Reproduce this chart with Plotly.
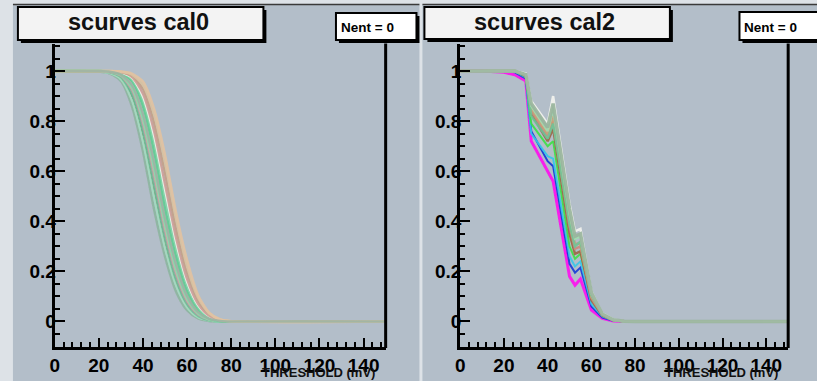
import plotly.graph_objects as go

W, H = 817, 381

# ---------------- data ----------------
# left panel: scurves cal0
x_cal0 = [0, 20, 25, 30, 35, 40, 45, 50, 55, 60, 65, 70, 75, 80, 150]
cal0_k = [1, 0.999, 0.994, 0.974, 0.904, 0.755, 0.54, 0.328, 0.165, 0.067, 0.021, 0.005, 0.001, 0, 0]
cal0_a = [1, 0.998, 0.99, 0.96, 0.86, 0.68, 0.45, 0.26, 0.12, 0.045, 0.012, 0.002, 0, 0, 0]
cal0_b = [1, 0.998, 0.992, 0.968, 0.884, 0.72, 0.50, 0.295, 0.145, 0.057, 0.017, 0.004, 0, 0, 0]
cal0_c = [1, 0.999, 0.994, 0.972, 0.896, 0.74, 0.523, 0.313, 0.156, 0.063, 0.02, 0.005, 0.001, 0, 0]
cal0_d = [1, 0.999, 0.995, 0.976, 0.908, 0.76, 0.546, 0.332, 0.168, 0.069, 0.022, 0.005, 0.001, 0, 0]
cal0_e = [1, 0.999, 0.996, 0.98, 0.92, 0.78, 0.57, 0.35, 0.18, 0.075, 0.025, 0.006, 0.001, 0, 0]
cal0_f = [1, 0.999, 0.996, 0.982, 0.928, 0.796, 0.592, 0.37, 0.196, 0.084, 0.029, 0.007, 0.002, 0, 0]
cal0_g = [1, 1.0, 0.997, 0.984, 0.936, 0.81, 0.614, 0.39, 0.21, 0.093, 0.033, 0.008, 0.001, 0, 0]
cal0_h = [1, 1.0, 0.998, 0.99, 0.96, 0.86, 0.68, 0.45, 0.26, 0.12, 0.045, 0.012, 0.002, 0, 0]
cal0_i = [1, 1.0, 0.998, 0.992, 0.968, 0.884, 0.72, 0.50, 0.295, 0.145, 0.057, 0.017, 0.004, 0, 0]
cal0_j = [1, 1.0, 0.999, 0.994, 0.972, 0.896, 0.74, 0.523, 0.314, 0.156, 0.063, 0.02, 0.005, 0.001, 0]
cal0_l = [1, 1.0, 0.999, 0.995, 0.976, 0.908, 0.76, 0.546, 0.332, 0.168, 0.069, 0.022, 0.005, 0.001, 0]
cal0_m = [1, 1.0, 1.0, 0.996, 0.982, 0.928, 0.796, 0.592, 0.37, 0.196, 0.084, 0.029, 0.007, 0.001, 0]
cal0_n = [1, 1.0, 1.0, 0.997, 0.986, 0.944, 0.828, 0.636, 0.41, 0.22, 0.095, 0.032, 0.008, 0.001, 0]
cal0_o = [1, 1.0, 1.0, 0.998, 0.99, 0.958, 0.85, 0.665, 0.435, 0.245, 0.105, 0.035, 0.008, 0.001, 0]
cal0_p = [1, 1.0, 0.997, 0.986, 0.944, 0.828, 0.636, 0.41, 0.228, 0.102, 0.037, 0.01, 0.002, 0, 0]

cal0_series = [cal0_k, cal0_c, cal0_a, cal0_b, cal0_d, cal0_e, cal0_f, cal0_g, cal0_h,
               cal0_i, cal0_j, cal0_l, cal0_m, cal0_n, cal0_o, cal0_p]
cal0_colors = ["#1e1e1e", "#7a3b3b", "#8fb5a0", "#a6dcc0", "#6fc89c", "#9aa8a4", "#d4aaa8",
               "#84dcae", "#5fcf92", "#7fd6a6", "#f2f2ee", "#cf9e98", "#c4a088", "#d8c4a4",
               "#e2c2a2", "#9cb4a4"]
cal0_widths = [1.2, 1.2, 2.5, 2.5, 2.5, 2.2, 2.2, 2.5, 2.5, 2.5, 2.0, 2.2, 2.2, 2.5, 2.5, 2.5]

# right panel: scurves cal2
x_cal2 = [0, 10, 20, 25, 30, 32.5, 40, 42.5, 50, 52.5, 55, 60, 65, 70, 75, 80, 150]
cal2_mag = [1, 1, 0.995, 0.985, 0.96, 0.72, 0.60, 0.56, 0.18, 0.145, 0.17, 0.045, 0.012, 0.002, 0, 0, 0]
cal2_blu = [1, 1, 1, 0.995, 0.97, 0.76, 0.64, 0.62, 0.23, 0.195, 0.215, 0.06, 0.015, 0.003, 0, 0, 0]
cal2_cya = [1, 1, 1, 0.998, 0.975, 0.75, 0.66, 0.65, 0.26, 0.22, 0.24, 0.07, 0.02, 0.004, 0, 0, 0]
cal2_grn = [1, 1, 1, 1, 0.98, 0.79, 0.70, 0.72, 0.30, 0.25, 0.27, 0.105, 0.03, 0.006, 0.001, 0, 0]
cal2_brn = [1, 1, 1, 1, 0.98, 0.83, 0.72, 0.77, 0.35, 0.27, 0.28, 0.085, 0.024, 0.005, 0.001, 0, 0]
cal2_sal = [1, 1, 1, 1, 0.982, 0.84, 0.74, 0.80, 0.38, 0.29, 0.30, 0.095, 0.026, 0.005, 0.001, 0, 0]
cal2_tan = [1, 1, 1, 1, 0.984, 0.85, 0.75, 0.82, 0.40, 0.31, 0.31, 0.10, 0.028, 0.006, 0.001, 0, 0]
cal2_sea = [1, 1, 1, 1, 0.984, 0.82, 0.73, 0.79, 0.39, 0.30, 0.32, 0.105, 0.03, 0.006, 0.001, 0, 0]
cal2_lgr = [1, 1, 1, 1, 0.986, 0.86, 0.76, 0.85, 0.43, 0.33, 0.34, 0.11, 0.03, 0.007, 0.001, 0, 0]
cal2_wht = [1, 1, 1, 1, 0.99, 0.88, 0.79, 0.90, 0.47, 0.36, 0.37, 0.12, 0.032, 0.008, 0.001, 0, 0]
cal2_gry = [1, 1, 1, 1, 0.986, 0.87, 0.775, 0.87, 0.45, 0.34, 0.35, 0.115, 0.03, 0.007, 0.001, 0, 0]

cal2_series = [cal2_mag, cal2_blu, cal2_cya, cal2_grn, cal2_brn, cal2_sal, cal2_tan,
               cal2_sea, cal2_lgr, cal2_wht, cal2_gry]
cal2_colors = ["#ff10f0", "#1838d8", "#38c8e8", "#40e048", "#9c6a48", "#cc8c7c", "#c8a47c",
               "#70c498", "#a4dcb0", "#f4f4f0", "#98b49c"]
cal2_widths = [3, 2, 2, 2, 2.5, 2.5, 2.5, 2.5, 2.5, 2.5, 3.5]

titles = ["scurves cal0", "scurves cal2"]
stat_text = "Nent = 0"
axis_title = "THRESHOLD (mV)"

# ---------------- figure ----------------
def px(x):
    return x / W

def py(y):
    return 1 - y / H

fig = go.Figure()
for ys, c, w in zip(cal0_series, cal0_colors, cal0_widths):
    fig.add_trace(go.Scatter(x=x_cal0, y=ys, mode="lines", xaxis="x", yaxis="y",
                             line=dict(color=c, width=w, shape="spline", smoothing=0.7),
                             opacity=0.9, hoverinfo="skip"))
for ys, c, w in zip(cal2_series, cal2_colors, cal2_widths):
    fig.add_trace(go.Scatter(x=x_cal2, y=ys, mode="lines", xaxis="x2", yaxis="y2",
                             line=dict(color=c, width=w), opacity=0.9, hoverinfo="skip"))

PAD = "#b3bec9"
ydom = [py(346.5), py(43.5)]
tickfont = dict(family="Liberation Sans, Arial, sans-serif", size=19, color="black", weight="bold")

def xax(dom, anchor):
    return dict(domain=dom, anchor=anchor, range=[0, 150], dtick=20, tick0=0,
                showline=True, linecolor="black", linewidth=3, mirror=False,
                ticks="inside", ticklen=9, tickwidth=2, tickcolor="black",
                minor=dict(ticks="inside", ticklen=5, dtick=4, tickwidth=2, tickcolor="black"),
                showgrid=False, zeroline=False, tickfont=tickfont, fixedrange=True)

def yax(anchor):
    return dict(domain=ydom, anchor=anchor, range=[-0.1, 1.11], dtick=0.2, tick0=0,
                showline=True, linecolor="black", linewidth=3, mirror=False,
                ticks="inside", ticklen=10, tickwidth=2, tickcolor="black",
                minor=dict(ticks="inside", ticklen=5, dtick=0.05, tickwidth=2, tickcolor="black"),
                showgrid=False, zeroline=False, tickfont=tickfont, fixedrange=True,
                ticklabelstandoff=-8)

shapes = []
# pads
shapes.append(dict(type="rect", xref="paper", yref="paper", x0=px(8), x1=px(417), y0=py(381), y1=py(5),
                   fillcolor=PAD, line=dict(width=0), layer="below"))
shapes.append(dict(type="rect", xref="paper", yref="paper", x0=px(420), x1=px(817), y0=py(381), y1=py(5),
                   fillcolor=PAD, line=dict(width=0), layer="below"))
for a, b in [(8, 417), (420, 817)]:
    shapes.append(dict(type="line", xref="paper", yref="paper", x0=px(a), x1=px(b), y0=py(4.5), y1=py(4.5),
                       line=dict(color="#3a3a3a", width=1.5), layer="below"))
# right frame lines
for xr in [383, 788]:
    shapes.append(dict(type="line", xref="paper", yref="paper", x0=px(xr), x1=px(xr),
                       y0=py(348), y1=py(43.5), line=dict(color="black", width=3)))

def box(x0, x1, y0, y1, fill, sh=3):
    shapes.append(dict(type="rect", xref="paper", yref="paper", x0=px(x0 + sh), x1=px(x1 + sh),
                       y0=py(y1 + sh), y1=py(y0 + sh), fillcolor="black", line=dict(width=0)))
    shapes.append(dict(type="rect", xref="paper", yref="paper", x0=px(x0), x1=px(x1),
                       y0=py(y1), y1=py(y0), fillcolor=fill, line=dict(color="black", width=2)))

box(13, 260, 7, 40, "#f3f3f3")
box(422, 669, 7, 39, "#f3f3f3")
box(333, 414, 13, 40, "white")
box(739, 840, 12, 40, "white")

ann = []
tfont = dict(family="Liberation Sans, Arial, sans-serif", size=23.5,
             color="#111111", weight="bold")
ann.append(dict(text=titles[0], x=px(134), y=py(22), xref="paper", yref="paper",
                showarrow=False, xanchor="center", yanchor="middle", font=tfont))
ann.append(dict(text=titles[1], x=px(543), y=py(22), xref="paper", yref="paper",
                showarrow=False, xanchor="center", yanchor="middle", font=tfont))
sfont = dict(family="Liberation Sans, Arial, sans-serif", size=13.5, color="black", weight="bold")
ann.append(dict(text=stat_text, x=px(336), y=py(28), xref="paper", yref="paper",
                showarrow=False, xanchor="left", yanchor="middle", font=sfont))
ann.append(dict(text=stat_text, x=px(742), y=py(28), xref="paper", yref="paper",
                showarrow=False, xanchor="left", yanchor="middle", font=sfont))
afont = dict(family="Liberation Sans, Arial, sans-serif", size=13, color="#111111", weight="bold")
ann.append(dict(text=axis_title, x=px(374), y=py(372), xref="paper", yref="paper",
                showarrow=False, xanchor="right", yanchor="middle", font=afont))
ann.append(dict(text=axis_title, x=px(780), y=py(372), xref="paper", yref="paper",
                showarrow=False, xanchor="right", yanchor="middle", font=afont))

fig.update_layout(
    width=W, height=H, margin=dict(l=0, r=0, t=0, b=0),
    paper_bgcolor="#dde2e7", plot_bgcolor="rgba(0,0,0,0)", showlegend=False,
    xaxis=xax([px(50), px(383)], "y"), yaxis=yax("x"),
    xaxis2=xax([px(458), px(788)], "y2"), yaxis2=yax("x2"),
    shapes=shapes, annotations=ann,
)

fig.write_html("out.html")
